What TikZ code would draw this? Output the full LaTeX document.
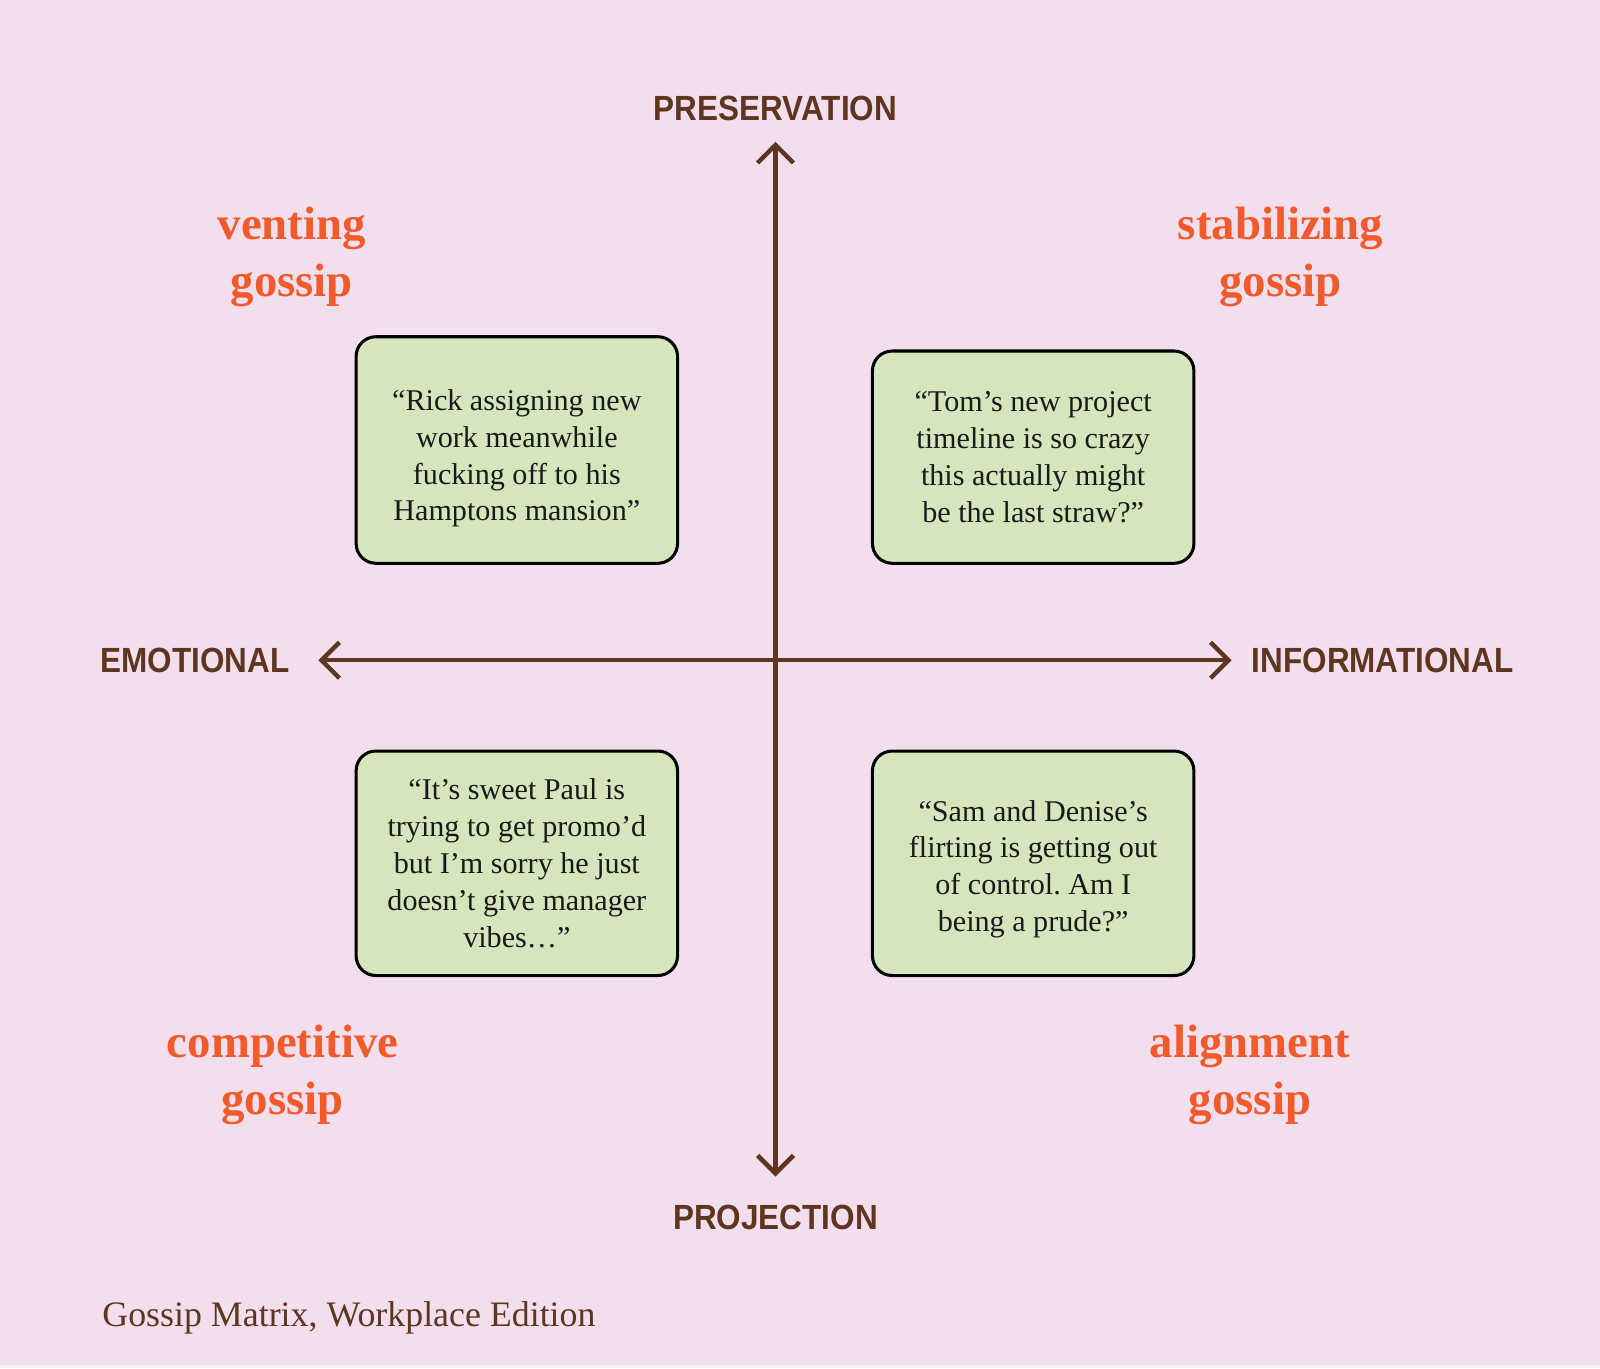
\documentclass[tikz,border=0pt]{standalone}
\usepackage{fontspec}
\setmainfont{Liberation Serif}
\newfontfamily\axisfont[FakeStretch=0.9]{Liberation Sans}
\usetikzlibrary{arrows.meta}
\frenchspacing

\definecolor{bgpink}{HTML}{F3DEEE}
\definecolor{bgstrip}{HTML}{F8F0F5}
\definecolor{boxgreen}{HTML}{D5E6BD}
\definecolor{axisbrown}{HTML}{5E3620}
\definecolor{typeorange}{HTML}{F15A2B}

\tikzset{
  axis/.style={{Straight Barb[length=10pt,width=20pt]}-{Straight Barb[length=10pt,width=20pt]},line width=2.5pt,color=axisbrown},
  axislabel/.style={font=\axisfont\bfseries\fontsize{19.5}{22}\selectfont,text=axisbrown},
  typelabel/.style={align=center,font=\bfseries\fontsize{26.1}{31.8}\selectfont,text=typeorange},
  quotebox/.style={draw=black,line width=1.7pt,rounded corners=11pt,fill=boxgreen,align=center,
    minimum width=63mm,inner sep=0pt,font=\fontsize{16.8}{20.5}\selectfont,text=black!90}
}

\begin{document}
\begin{tikzpicture}[x=0.2mm,y=-0.2mm]
% background
\fill[bgpink] (0,0) rectangle (1568,1341);
\fill[bgstrip] (0,1338) rectangle (1568,1341);
\useasboundingbox (0,0) rectangle (1568,1341);

% axes
\coordinate (top) at (760,139);
\coordinate (bottom) at (760,1153);
\coordinate (left) at (312,647);
\coordinate (right) at (1207,647);
\draw[axis] (top) -- (bottom);
\draw[axis] (left) -- (right);

\node[axislabel] (pres) at (760,106) {PRESERVATION};
\node[axislabel] (proj) at (760,1193) {PROJECTION};
\node[axislabel] (emo) at (191,647) {EMOTIONAL};
\node[axislabel] (info) at (1355,647) {INFORMATIONAL};

% quadrant names
\node[typelabel] (venting) at (286,252) {venting\\gossip};
\node[typelabel] (stabilizing) at (1255,252) {stabilizing\\gossip};
\node[typelabel] (competitive) at (277,1053) {competitive\\gossip};
\node[typelabel] (alignment) at (1225,1053) {alignment\\gossip};

% examples
\node[quotebox,minimum height=44.4mm] (rick) at (506.5,441)
  {\rule{0pt}{21pt}“Rick assigning new\\work meanwhile\\fucking off to his\\Hamptons mansion”};
\node[quotebox,minimum height=41.6mm] (tom) at (1012.5,448)
  {“Tom’s new project\\timeline is so crazy\\this actually might\\be the last straw?”};
\node[quotebox,minimum height=44mm] (paul) at (506.5,846)
  {“It’s sweet Paul is\\trying to get promo’d\\but I’m sorry he just\\doesn’t give manager\\vibes…”};
\node[quotebox,minimum height=44mm] (sam) at (1012.5,846)
  {\rule{0pt}{18pt}“Sam and Denise’s\\flirting is getting out\\of control. Am I\\being a prude?”};

% caption
\node[anchor=base west,inner sep=0pt,font=\fontsize{20}{24}\selectfont,text=axisbrown] (caption) at (100,1300)
  {Gossip Matrix, Workplace Edition};
\end{tikzpicture}
\end{document}
